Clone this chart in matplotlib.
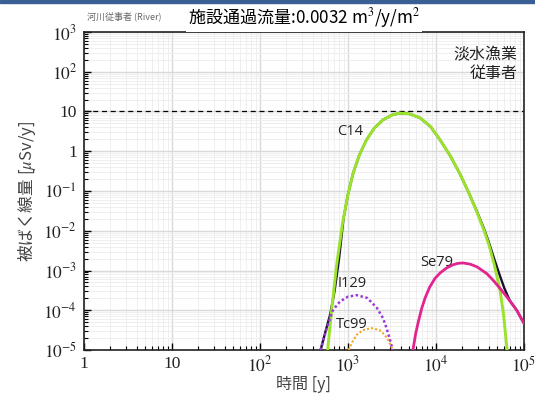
import numpy as np
import matplotlib
matplotlib.use("Agg")
import matplotlib.pyplot as plt
from matplotlib.ticker import LogLocator, NullFormatter, FixedLocator

plt.rcParams['mathtext.fontset'] = 'stix'

# ---- data (log10 time, log10 dose) ----
c14_logt = [2.77, 2.82, 2.87, 2.94, 3.00, 3.06, 3.13, 3.21, 3.30, 3.40, 3.50, 3.59,
            3.70, 3.82, 3.94, 4.05, 4.16, 4.27, 4.37, 4.47, 4.55, 4.61, 4.67, 4.73, 4.77, 4.81]
c14_logv = [-5.0, -3.9, -2.9, -1.8, -1.1, -0.55, -0.1, 0.28, 0.58, 0.79, 0.91, 0.96,
            0.94, 0.84, 0.62, 0.28, -0.10, -0.55, -1.02, -1.55, -2.00, -2.40, -2.90, -3.50, -4.10, -5.0]

i129_logt = [2.69, 2.76, 2.83, 2.91, 3.00, 3.10, 3.22, 3.33, 3.40, 3.44, 3.48, 3.51]
i129_logv = [-5.0, -4.45, -4.0, -3.78, -3.66, -3.62, -3.69, -3.94, -4.2, -4.45, -4.75, -5.0]

tc99_logt = [3.01, 3.05, 3.10, 3.17, 3.27, 3.36, 3.42, 3.47, 3.51]
tc99_logv = [-5.0, -4.8, -4.62, -4.5, -4.45, -4.5, -4.62, -4.8, -5.0]

se79_logt = [3.74, 3.77, 3.80, 3.84, 3.88, 3.93, 3.99, 4.05, 4.12, 4.19, 4.25, 4.31, 4.39,
             4.47, 4.58, 4.65, 4.73, 4.81, 4.92, 5.0]
se79_logv = [-5.0, -4.6, -4.3, -3.95, -3.68, -3.42, -3.2, -3.06, -2.94, -2.86, -2.82, -2.81, -2.84,
             -2.91, -3.08, -3.24, -3.45, -3.67, -4.0, -4.32]

total_logt = [2.69, 2.75, 2.80, 2.85, 2.90, 2.95, 3.00, 3.06, 3.13, 3.21, 3.30, 3.40, 3.50, 3.59,
              3.70, 3.82, 3.94, 4.05, 4.16, 4.27, 4.37, 4.47, 4.55, 4.61, 4.67, 4.73, 4.78, 4.84, 4.92, 5.0]
total_logv = [-5.0, -4.5, -4.1, -3.5, -2.7, -1.7, -1.1, -0.55, -0.1, 0.28, 0.58, 0.79, 0.91, 0.96,
              0.94, 0.84, 0.62, 0.28, -0.10, -0.55, -1.02, -1.53, -1.96, -2.34, -2.75, -3.14, -3.45, -3.75, -4.0, -4.32]

xticks = [1, 10, 1e2, 1e3, 1e4, 1e5]
xticklabels = ['1', '10', r'$10^2$', r'$10^3$', r'$10^4$', r'$10^5$']
yticks = [1e-5, 1e-4, 1e-3, 1e-2, 1e-1, 1, 10, 1e2, 1e3]
yticklabels = [r'$10^{-5}$', r'$10^{-4}$', r'$10^{-3}$', r'$10^{-2}$', r'$10^{-1}$', '1', '10', r'$10^2$', r'$10^3$']

def p(a):
    return 10 ** np.asarray(a, dtype=float)

fig = plt.figure(figsize=(5.35, 3.98), dpi=100)
ax = fig.add_axes([0.157, 0.1206, 0.822, 0.799])
ax.set_xscale('log')
ax.set_yscale('log')
ax.set_xlim(1, 1e5)
ax.set_ylim(1e-5, 1e3)

ax.grid(True, which='major', color='#d9d9d9', lw=1.0)
ax.grid(True, which='minor', color='#ececec', lw=0.6)
ax.set_axisbelow(True)

ax.axhline(10, color='black', ls=(0, (4, 3)), lw=0.9, zorder=2)

ax.plot(p(total_logt), p(total_logv), color='#1a1030', lw=1.7, zorder=3)
ax.plot(p(c14_logt), p(c14_logv), color='#9be22d', lw=2.1, zorder=4)
ax.plot(p(se79_logt), p(se79_logv), color='#e3238f', lw=2.0, zorder=4)
ax.plot(p(i129_logt), p(i129_logv), color='#9a3ad8', lw=1.8, ls=(0, (1, 1)), zorder=5)
ax.plot(p(tc99_logt), p(tc99_logv), color='#f5a623', lw=1.5, ls=(0, (1, 1)), zorder=5)

lbl = dict(family=['Open Sans', 'DejaVu Sans'], fontsize=10.5, color='#222222')
ax.text(1050, 3.2, 'C14', ha='center', va='center', **lbl)
ax.text(1.02e4, 1.6e-3, 'Se79', ha='center', va='center', **lbl)
ax.text(1120, 4.6e-4, 'I129', ha='center', va='center', **lbl)
ax.text(1120, 4.5e-5, 'Tc99', ha='center', va='center', **lbl)

ax.text(0.985, 0.955, '淡水漁業\n従事者', transform=ax.transAxes, ha='right', va='top',
        family=['Noto Sans CJK JP', 'DejaVu Sans'], fontsize=11.5, color='#222222', linespacing=1.1)

ax.xaxis.set_major_locator(FixedLocator(xticks))
ax.set_xticklabels(xticklabels)
ax.yaxis.set_major_locator(FixedLocator(yticks))
ax.set_yticklabels(yticklabels)
ax.xaxis.set_minor_locator(LogLocator(base=10, subs=np.arange(2, 10), numticks=20))
ax.yaxis.set_minor_locator(LogLocator(base=10, subs=np.arange(2, 10), numticks=20))
ax.xaxis.set_minor_formatter(NullFormatter())
ax.yaxis.set_minor_formatter(NullFormatter())
ax.tick_params(which='both', direction='in', top=False, right=False, colors='black')
ax.tick_params(which='major', length=5, width=1, labelsize=12.5)
ax.tick_params(axis='x', which='major', pad=4)
ax.tick_params(axis='y', which='major', pad=5)
ax.tick_params(which='minor', length=3, width=0.8)
for lab in ax.get_xticklabels() + ax.get_yticklabels():
    lab.set_family(['Liberation Serif', 'DejaVu Serif'])
    lab.set_color('#222222')
for s in ax.spines.values():
    s.set_linewidth(1.2)
    s.set_color('#222222')

ax.set_xlabel('時間 [y]', family=['Noto Sans CJK JP', 'DejaVu Sans'], fontsize=11.5, color='#444444', labelpad=0)
ax.set_ylabel('被ばく線量 [$\\mu$Sv/y]', family=['Noto Sans CJK JP', 'DejaVu Sans'], fontsize=12,
              color='#444444', labelpad=4)

# top blue band
fig.patches.append(plt.Rectangle((0, 1 - 3 / 398), 1, 3 / 398, transform=fig.transFigure,
                                 color='#3a5f94', zorder=10))
fig.text(87 / 535, 1 - 16 / 398, '河川従事者 (River)', family=['Noto Sans CJK JP', 'DejaVu Sans'],
         fontsize=6.5, color='#666666', va='center', ha='left')
fig.text(188 / 535, 1 - 18 / 398, '施設通過流量:0.0032 m$^3$/y/m$^2$',
         family=['Noto Sans CJK JP', 'DejaVu Sans'], fontsize=12.3, color='black', va='center', ha='left',
         bbox=dict(facecolor='white', edgecolor='none', pad=1.5))

fig.savefig('out.png', dpi=100)
